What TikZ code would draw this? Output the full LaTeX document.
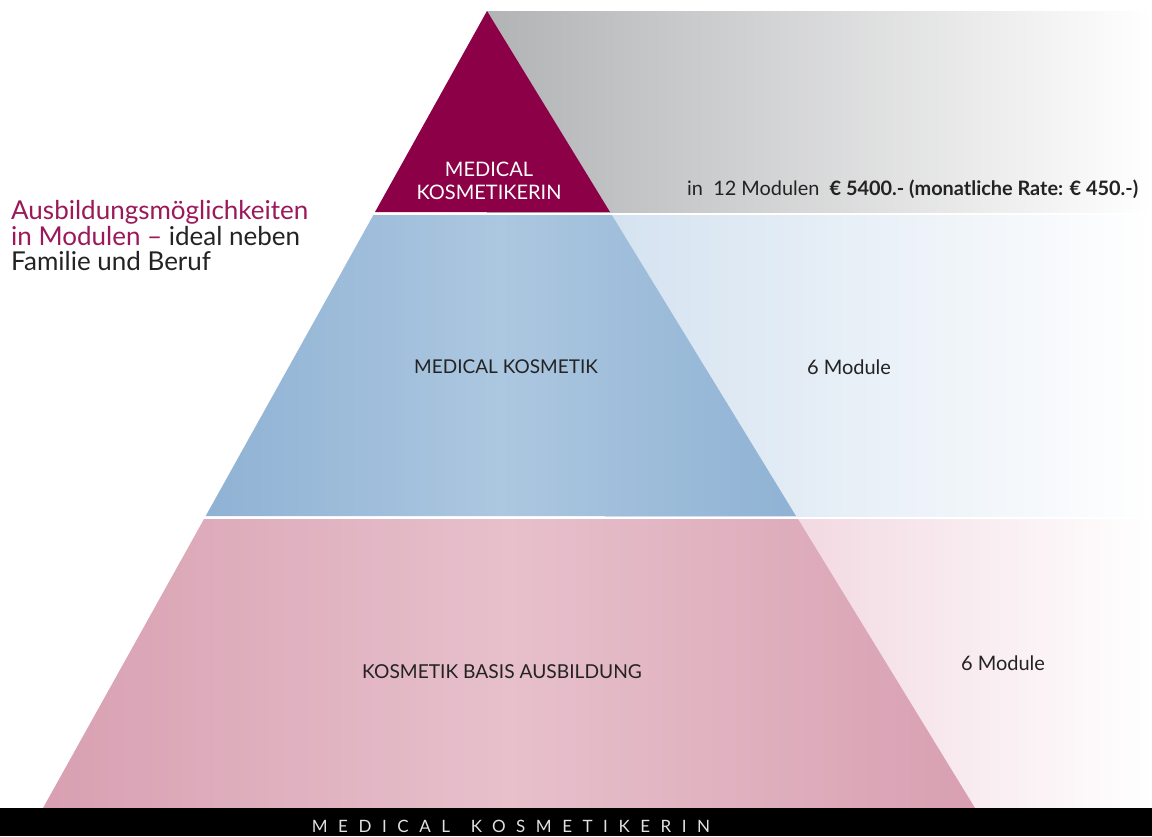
\documentclass[tikz,border=0pt]{standalone}
\usepackage{fontspec}
\setmainfont{Lato}
\newfontfamily\barfont[LetterSpace=62]{Lato}
\definecolor{topmaroon}{RGB}{139,0,70}
\definecolor{titlemaroon}{RGB}{155,25,90}
\definecolor{greyL}{RGB}{178,179,181}
\definecolor{blueE}{RGB}{143,178,212}
\definecolor{blueC}{RGB}{172,199,224}
\definecolor{blueL}{RGB}{212,226,240}
\definecolor{pinkE}{RGB}{216,160,178}
\definecolor{pinkC}{RGB}{231,192,204}
\definecolor{pinkL}{RGB}{242,216,225}
\definecolor{darktext}{RGB}{35,35,35}
\tikzset{
  lbl/.style={inner sep=0pt, text=darktext},
  titleline/.style={lbl, anchor=base west, font=\fontsize{26}{26}\selectfont},
}
\begin{document}
\begin{tikzpicture}[x=1pt,y=-1pt]
\useasboundingbox (0,0) rectangle (1152,836);
\fill[white] (0,0) rectangle (1152,836);
% fading bands
\shade[left color=greyL, right color=white] (487,11) rectangle (1152,212);
\shade[left color=blueL, right color=white] (605,215) rectangle (1152,516);
\shade[left color=pinkL, right color=white] (790,519) rectangle (1152,808);
% pyramid
\fill[topmaroon] (487,11) -- (610,212) -- (375,212) -- cycle;
\shade[left color=blueE, right color=blueE, middle color=blueC]
  (373.4,215) -- (611.8,215) -- (796,516) -- (205.7,516) -- cycle;
\shade[left color=pinkE, right color=pinkE, middle color=pinkC]
  (204,519) -- (798,519) -- (975,808) -- (43,808) -- cycle;
% bottom bar
\fill[black] (0,808) rectangle (1152,836);
% texts
\node[lbl, text=white, align=center, font=\fontsize{20}{23}\selectfont] (t1) at (489,181) {MEDICAL\\KOSMETIKERIN};
\node[lbl, font=\fontsize{19}{20}\selectfont] (t2) at (506,367) {MEDICAL KOSMETIK};
\node[lbl, font=\fontsize{20}{20}\selectfont] (m2) at (849,367) {6 Module};
\node[lbl, font=\fontsize{19.2}{20}\selectfont] (t3) at (502,672) {KOSMETIK BASIS AUSBILDUNG};
\node[lbl, font=\fontsize{20}{20}\selectfont] (m3) at (1003,663) {6 Module};
\node[lbl, anchor=base west, font=\fontsize{19.9}{20}\selectfont] (price) at (687,195) {in\ \ 12 Modulen\ \ \textbf{€ 5400.- (monatliche Rate: € 450.-)}};
\node[titleline, text=titlemaroon] (title1) at (11,219) {Ausbildungsmöglichkeiten};
\node[titleline] (title2) at (11,245) {\textcolor{titlemaroon}{in Modulen –} ideal neben};
\node[titleline] (title3) at (11,270) {Familie und Beruf};
\node[lbl, text=white!88!black, font=\barfont\fontsize{17}{17}\selectfont] (bar) at (511,826) {MEDICAL \hspace{6pt}KOSMETIKERIN};
\end{tikzpicture}
\end{document}
